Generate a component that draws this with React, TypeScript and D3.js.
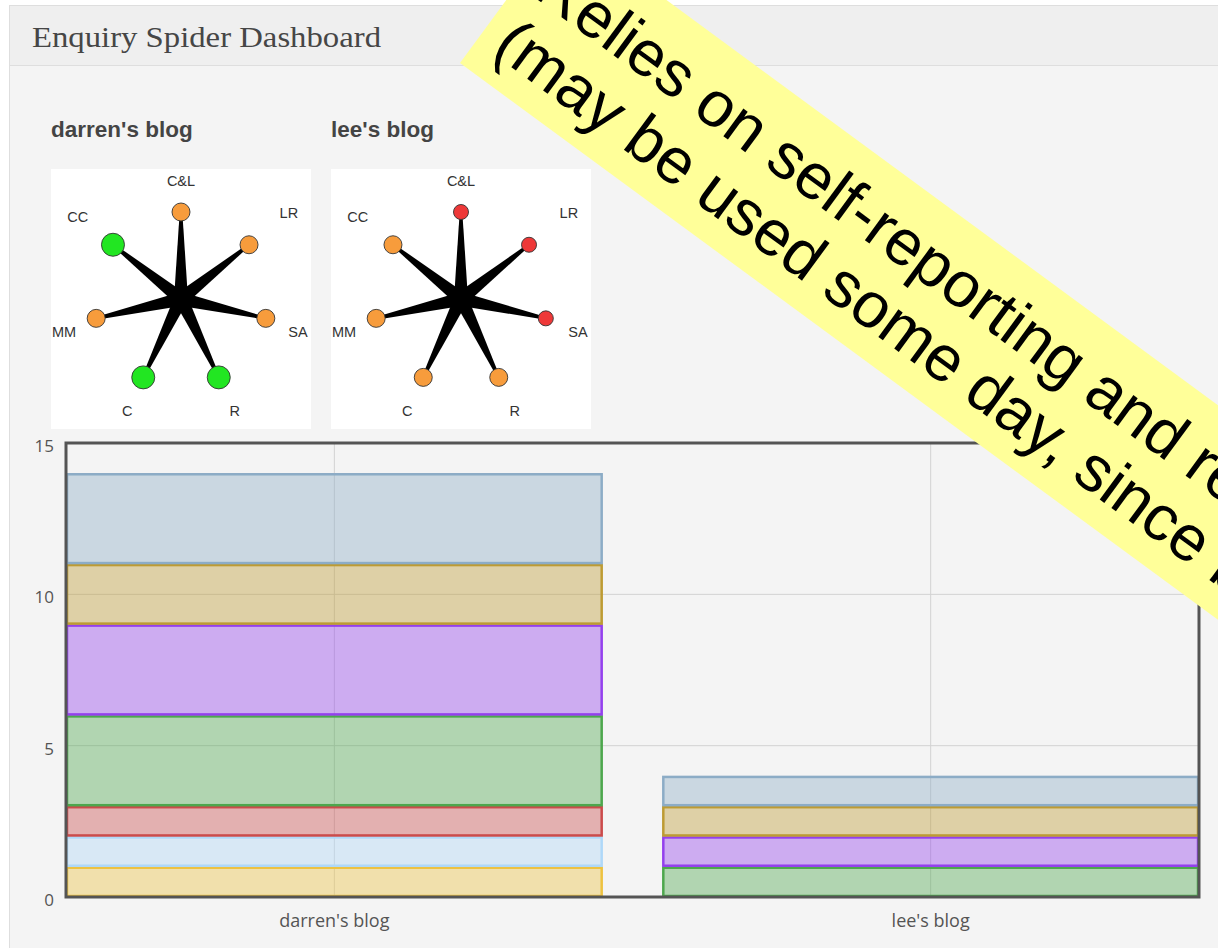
import React from 'react';
import * as d3 from 'd3';

// ---------- data ----------
const blogs = ["darren's blog", "lee's blog"];
const spokeLabels = ['C&L', 'LR', 'SA', 'R', 'C', 'MM', 'CC'];
const darrenStatus = ['amber', 'amber', 'amber', 'green', 'green', 'amber', 'green'];
const leeStatus = ['red', 'red', 'red', 'amber', 'amber', 'amber', 'amber'];
const seriesKeys = ['s1', 's2', 's3', 's4', 's5', 's6', 's7'];
const seriesDarren = [1, 1, 1, 3, 3, 2, 3];
const seriesLee = [0, 0, 0, 1, 1, 1, 1];
const seriesColors = ['#edc240', '#afd8f8', '#cb4b4b', '#4da74d', '#9440ed', '#bd9b33', '#8cacc6'];
const yTicks = [0, 5, 10, 15];
const bannerLines = ['Relies on self-reporting and ref', '(may be used some day, since b'];
const dashboardTitle = 'Enquiry Spider Dashboard';

// ---------- styles / layout ----------
const W = 1218;
const H = 948;
const statusFill: Record<string, string> = { amber: '#f79c3c', green: '#22e622', red: '#ee3838' };
const statusR: Record<string, number> = { amber: 9, green: 11.5, red: 7.5 };
const labelR = [118, 138, 120, 124, 124, 120, 132];
const labelDy = [0, 0, 6, 0, 0, 6, 0];

function Spider({ x0, y0, title, statuses }: { x0: number; y0: number; title: string; statuses: string[] }) {
  const size = 260;
  const cx = x0 + size / 2;
  const cy = y0 + size / 2;
  const R = 87;
  const n = spokeLabels.length;
  const ang = d3.scaleLinear().domain([0, n]).range([0, 2 * Math.PI]);
  return (
    <g>
      <text x={x0} y={y0 - 32} fontFamily="'Liberation Sans', Arial, sans-serif" fontWeight="bold" fontSize={22.5} fill="#444">
        {title}
      </text>
      <rect x={x0} y={y0} width={size} height={size} fill="#ffffff" />
      {spokeLabels.map((lab, i) => {
        const a = ang(i);
        const sx = Math.sin(a), sy = -Math.cos(a);
        const nx = cx + R * sx, ny = cy + R * sy;
        const px = Math.cos(a), py = Math.sin(a);
        const w0 = 7, w1 = 1.3;
        const pts = [
          [cx + px * w0, cy + py * w0],
          [nx + px * w1, ny + py * w1],
          [nx - px * w1, ny - py * w1],
          [cx - px * w0, cy - py * w0],
        ];
        return <polygon key={'sp' + i} points={pts.map((p) => p.join(',')).join(' ')} fill="#000" />;
      })}
      {spokeLabels.map((lab, i) => {
        const a = ang(i);
        const nx = cx + R * Math.sin(a), ny = cy - R * Math.cos(a);
        const st = statuses[i];
        return <circle key={'c' + i} cx={nx} cy={ny} r={statusR[st]} fill={statusFill[st]} stroke="#333" strokeWidth={0.9} />;
      })}
      {spokeLabels.map((lab, i) => {
        const a = ang(i);
        const lx = cx + labelR[i] * Math.sin(a), ly = cy - labelR[i] * Math.cos(a) + labelDy[i];
        return (
          <text key={'l' + i} x={lx} y={ly + 5} textAnchor="middle" fontFamily="'Liberation Sans', Arial, sans-serif" fontSize={14.5} fill="#333">
            {lab}
          </text>
        );
      })}
    </g>
  );
}

export default function App() {
  const plot = { left: 66, right: 1199, top: 443, bottom: 897 };
  const x = d3.scaleLinear().domain([-0.45, blogs.length - 0.55]).range([plot.left, plot.right]);
  const y = d3.scaleLinear().domain([0, 15]).range([plot.bottom, plot.top]);
  const barW = 0.9;

  const rows = blogs.map((b, i) => {
    const o: Record<string, number | string> = { blog: b };
    seriesKeys.forEach((k, j) => {
      o[k] = i === 0 ? seriesDarren[j] : seriesLee[j];
    });
    return o;
  });
  const stacked = d3.stack<any>().keys(seriesKeys)(rows);

  const theta = 36.3;
  const bandW = 173;
  const fs = 64.5;

  return (
    <svg width={W} height={H} style={{ position: 'absolute', left: 0, top: 0, display: 'block' }}>
      <defs>
        <clipPath id="plotclip">
          <rect x={plot.left} y={plot.top} width={plot.right - plot.left} height={plot.bottom - plot.top} />
        </clipPath>
      </defs>
      <rect x={0} y={0} width={W} height={H} fill="#ffffff" />
      {/* panel */}
      <rect x={9.5} y={5.5} width={W} height={H} fill="#f4f4f4" stroke="#dedede" strokeWidth={1} />
      <rect x={10} y={6} width={W} height={59} fill="#efefef" />
      <line x1={10} x2={W} y1={65.5} y2={65.5} stroke="#dedede" strokeWidth={1} />
      <text x={32} y={47} fontFamily="'Liberation Serif', 'DejaVu Serif', serif" fontSize={29} fill="#464646" textLength={349} lengthAdjust="spacingAndGlyphs">
        {dashboardTitle}
      </text>

      <Spider x0={51} y0={169} title={blogs[0]} statuses={darrenStatus} />
      <Spider x0={331} y0={169} title={blogs[1]} statuses={leeStatus} />

      {/* grid */}
      <g>
        {yTicks.filter((t) => t > 0 && t < 15).map((t) => (
          <line key={'gy' + t} x1={plot.left} x2={plot.right} y1={y(t)} y2={y(t)} stroke="#d2d2d2" strokeWidth={1} />
        ))}
        {blogs.map((b, i) => (
          <line key={'gx' + i} x1={x(i)} x2={x(i)} y1={plot.top} y2={plot.bottom} stroke="#d2d2d2" strokeWidth={1} />
        ))}
      </g>
      {/* bars */}
      <g clipPath="url(#plotclip)">
        {stacked.map((layer, k) =>
          layer.map((d, i) => {
            if (d[1] - d[0] <= 0) return null;
            const x0 = x(i - barW / 2);
            const x1 = x(i + barW / 2);
            return (
              <rect
                key={k + '-' + i}
                x={x0 + 1}
                y={y(d[1]) + 1}
                width={x1 - x0 - 2}
                height={y(d[0]) - y(d[1]) - 2}
                fill={seriesColors[k]}
                fillOpacity={0.4}
                stroke={seriesColors[k]}
                strokeWidth={2.5}
              />
            );
          })
        )}
      </g>
      {/* frame */}
      <rect x={plot.left} y={plot.top} width={plot.right - plot.left} height={plot.bottom - plot.top} fill="none" stroke="#545454" strokeWidth={3} />
      {/* y ticks */}
      {yTicks.map((t) => (
        <text key={'yt' + t} x={54} y={y(t) + 9} textAnchor="end" fontFamily="'Open Sans', sans-serif" fontSize={17} fill="#545454">
          {t}
        </text>
      ))}
      {/* x labels */}
      {blogs.map((b, i) => (
        <text key={'xl' + i} x={x(i)} y={927} textAnchor="middle" fontFamily="'Open Sans', sans-serif" fontSize={18} fill="#545454">
          {b}
        </text>
      ))}

      {/* banner */}
      <g transform={`translate(460,63) rotate(${theta})`}>
        <rect x={0} y={-bandW} width={1600} height={bandW} fill="#ffff99" />
        <text x={18} y={-97} fontFamily="'Liberation Sans', Arial, sans-serif" fontSize={fs} fill="#000">
          {bannerLines[0]}
        </text>
        <text x={18} y={-27} fontFamily="'Liberation Sans', Arial, sans-serif" fontSize={fs} fill="#000">
          {bannerLines[1]}
        </text>
      </g>
    </svg>
  );
}
